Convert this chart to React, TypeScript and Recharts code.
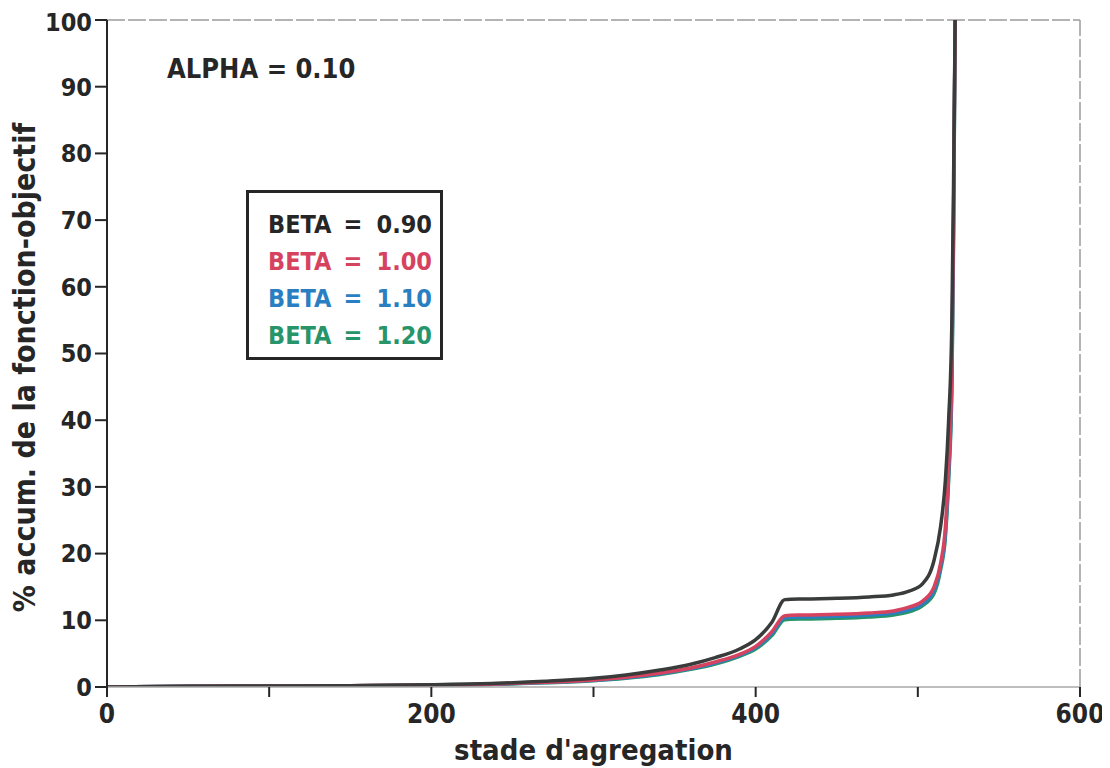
import {
  LineChart,
  Line,
  XAxis,
  YAxis,
  ReferenceLine,
  Legend,
  Customized,
} from 'recharts';

// aggregation stage (x) and cumulative % of the objective function for each beta
const stages = [0, 50, 100, 150, 200, 240, 270, 300, 320, 340, 360, 375, 390, 400, 410, 418, 430, 450, 470, 485, 495, 503, 510, 514, 517, 519, 521, 522, 523];
const beta090 = [0, 0.1, 0.15, 0.2, 0.35, 0.55, 0.85, 1.3, 1.8, 2.5, 3.4, 4.4, 5.7, 7.1, 9.7, 13.1, 13.2, 13.3, 13.5, 13.8, 14.4, 15.5, 19, 24, 31, 40, 55, 75, 100];
const beta100 = [0, 0.1, 0.15, 0.2, 0.3, 0.45, 0.7, 1.05, 1.45, 2.05, 2.85, 3.75, 4.9, 6.1, 8.3, 10.7, 10.8, 10.9, 11.1, 11.4, 12.0, 12.9, 15, 18.5, 24, 33, 48, 70, 100];
const beta110 = [0, 0.1, 0.15, 0.2, 0.3, 0.42, 0.66, 1.0, 1.38, 1.95, 2.75, 3.6, 4.75, 5.9, 8.0, 10.4, 10.5, 10.6, 10.8, 11.1, 11.6, 12.5, 14.5, 18, 23, 32, 46, 68, 100];
const beta120 = [0, 0.1, 0.15, 0.2, 0.28, 0.4, 0.62, 0.95, 1.32, 1.85, 2.65, 3.45, 4.6, 5.7, 7.7, 10.1, 10.2, 10.3, 10.5, 10.8, 11.3, 12.2, 14, 17.5, 22.5, 31, 45, 66, 100];

const xTicks = [0, 100, 200, 300, 400, 500, 600];
const yTicks = [0, 10, 20, 30, 40, 50, 60, 70, 80, 90, 100];

const series = [
  { key: 'b090', name: 'BETA = 0.90', color: '#3a3c3b', values: beta090 },
  { key: 'b100', name: 'BETA = 1.00', color: '#d6435f', values: beta100 },
  { key: 'b110', name: 'BETA = 1.10', color: '#2a7fc2', values: beta110 },
  { key: 'b120', name: 'BETA = 1.20', color: '#27946a', values: beta120 },
];

const rows = stages.map((stage, i) => {
  const row: Record<string, number> = { stage };
  series.forEach((s) => {
    row[s.key] = s.values[i];
  });
  return row;
});

const FONT = '"Liberation Sans Narrow", "DejaVu Sans Condensed", "Liberation Sans", sans-serif';
const INK = '#262626';

const BetaBox = () => (
  <div
    style={{
      boxSizing: 'border-box',
      width: 197,
      height: 170,
      border: `3px solid ${INK}`,
      background: '#fff',
      padding: '13px 8px 0 19px',
      fontFamily: FONT,
      fontWeight: 700,
      fontSize: 25,
      lineHeight: '37px',
    }}
  >
    {series.map((s) => {
      const [label, value] = s.name.split(' = ');
      return (
        <div key={s.key} style={{ display: 'flex', color: s.key === 'b090' ? INK : s.color }}>
          <span style={{ width: 70 }}>{label}</span>
          <span style={{ width: 30, textAlign: 'center' }}>=</span>
          <span style={{ width: 64, textAlign: 'right' }}>{value}</span>
        </div>
      );
    })}
  </div>
);

const AlphaNote = () => (
  <text x={159} y={70} fontFamily={FONT} fontWeight={700} fontSize={27} fill={INK}>
    ALPHA = 0.10
  </text>
);

export default function App() {
  return (
    <LineChart
      width={1100}
      height={760}
      data={rows}
      margin={{ top: 12, right: 28, left: 0, bottom: 0 }}
      style={{ background: '#fff' }}
    >
      <XAxis
        dataKey="stage"
        type="number"
        domain={[0, 600]}
        ticks={xTicks}
        tickFormatter={(v: number) => (v % 200 === 0 ? String(v) : '')}
        height={81}
        tickSize={10}
        tickMargin={8}
        axisLine={{ stroke: '#a8a8a8', strokeWidth: 1.5 }}
        tickLine={{ stroke: INK, strokeWidth: 2 }}
        tick={{ fill: INK, fontFamily: FONT, fontWeight: 700, fontSize: 26 }}
        label={{
          value: "stade d'agregation",
          position: 'insideBottom',
          offset: 8,
          fill: INK,
          fontFamily: FONT,
          fontWeight: 700,
          fontSize: 29,
        }}
      />
      <YAxis
        type="number"
        domain={[0, 100]}
        ticks={yTicks}
        allowDataOverflow
        width={99}
        tickSize={12}
        tickMargin={3}
        axisLine={{ stroke: INK, strokeWidth: 2 }}
        tickLine={{ stroke: INK, strokeWidth: 2 }}
        tick={{ fill: INK, fontFamily: FONT, fontWeight: 700, fontSize: 25 }}
        label={{
          value: '% accum. de la fonction-objectif',
          angle: -90,
          position: 'insideLeft',
          offset: 16,
          dy: 14,
          style: { textAnchor: 'middle' },
          fill: INK,
          fontFamily: FONT,
          fontWeight: 700,
          fontSize: 30,
        }}
      />
      <ReferenceLine y={100} stroke="#9c9c9c" strokeWidth={1.5} strokeDasharray="18 3" />
      <ReferenceLine x={600} stroke="#9c9c9c" strokeWidth={1.5} strokeDasharray="18 3" />
      {[...series].reverse().map((s) => (
        <Line
          key={s.key}
          dataKey={s.key}
          name={s.name}
          type="monotone"
          stroke={s.color}
          strokeWidth={3.5}
          dot={false}
          activeDot={false}
          isAnimationActive={false}
        />
      ))}
      <Legend
        layout="vertical"
        align="center"
        verticalAlign="middle"
        content={() => <BetaBox />}
        wrapperStyle={{ left: 238, top: 182, width: 197 }}
      />
      <Customized component={AlphaNote} />
    </LineChart>
  );
}
